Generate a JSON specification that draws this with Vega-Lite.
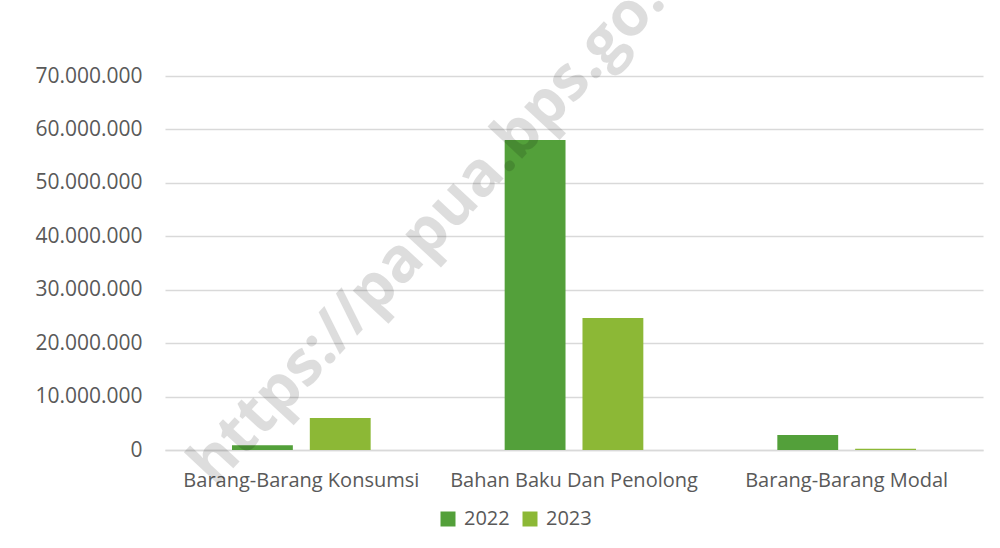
{
  "$schema": "https://vega.github.io/schema/vega-lite/v6.json",
  "autosize": "none",
  "width": 818,
  "height": 374,
  "padding": {"left": 165, "top": 76, "right": 17, "bottom": 98},
  "background": "white",
  "config": {
    "view": {"stroke": null},
    "font": "Open Sans",
    "axis": {"labelFont": "Open Sans", "labelColor": "#595959", "gridColor": "#d9d9d9", "gridWidth": 1.5, "ticks": false}
  },
  "data": {
    "values": [
      {"kategori": "Barang-Barang Konsumsi", "tahun": "2022", "nilai": 900000},
      {"kategori": "Barang-Barang Konsumsi", "tahun": "2023", "nilai": 6000000},
      {"kategori": "Bahan Baku Dan Penolong", "tahun": "2022", "nilai": 58000000},
      {"kategori": "Bahan Baku Dan Penolong", "tahun": "2023", "nilai": 24700000},
      {"kategori": "Barang-Barang Modal", "tahun": "2022", "nilai": 2800000},
      {"kategori": "Barang-Barang Modal", "tahun": "2023", "nilai": 250000}
    ]
  },
  "layer": [
    {
      "mark": {"type": "bar"},
      "encoding": {
        "x": {
          "field": "kategori", "type": "nominal", "sort": null,
          "scale": {"paddingInner": 0, "paddingOuter": 0},
          "axis": {"title": null, "labelAngle": 0, "labelFontSize": 20, "labelPadding": 20, "labelLimit": 0, "domain": true, "domainColor": "#d9d9d9", "domainWidth": 1.5, "grid": false}
        },
        "xOffset": {"field": "tahun", "type": "nominal", "scale": {"paddingInner": 0.218, "paddingOuter": 0.861}},
        "y": {
          "field": "nilai", "type": "quantitative",
          "scale": {"domain": [0, 70000000], "nice": false},
          "axis": {"title": null, "values": [0, 10000000, 20000000, 30000000, 40000000, 50000000, 60000000, 70000000], "labelOverlap": false, "labelFontSize": 21, "labelPadding": 23, "domain": false, "grid": true,
                   "labelExpr": "replace(format(datum.value, ',.0f'), regexp(',', 'g'), '.')"}
        },
        "color": {
          "field": "tahun", "type": "nominal",
          "scale": {"domain": ["2022", "2023"], "range": ["#53a03a", "#8cb836"]},
          "legend": {"title": null, "orient": "none", "legendX": 273, "legendY": 433, "direction": "horizontal", "symbolType": "square", "symbolSize": 225, "labelFontSize": 20, "labelColor": "#595959", "labelFont": "Open Sans", "columnPadding": 10, "labelOffset": 6, "symbolStrokeWidth": 0}
        }
      }
    },
    {
      "data": {"values": [{"watermark": "https://papua.bps.go.id"}]},
      "mark": {"type": "text", "angle": -47, "fontSize": 62, "fontWeight": "bold", "font": "Open Sans", "color": "#000000", "opacity": 0.13, "align": "center", "baseline": "middle"},
      "encoding": {
        "text": {"field": "watermark", "type": "nominal"},
        "x": {"datum": 0.345, "type": "quantitative", "scale": {"domain": [0, 1]}, "axis": null},
        "y": {"datum": 44700000, "type": "quantitative"}
      }
    }
  ],
  "resolve": {"scale": {"x": "independent"}}
}
